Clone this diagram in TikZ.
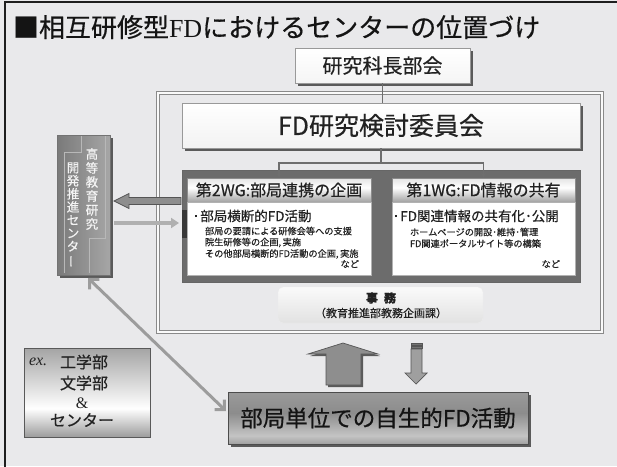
\documentclass[tikz,border=0pt]{standalone}
\usepackage{fontspec}
\setmainfont{Noto Sans CJK JP}[FakeBold=0.5]
\newfontfamily\latinserif{Liberation Serif}
\usetikzlibrary{arrows.meta,shadows}
\definecolor{bgc}{HTML}{E9E9EB}
\definecolor{edgec}{HTML}{1E1E1E}
\definecolor{framec}{HTML}{8A8A8A}
\definecolor{shadowc}{HTML}{5A5A5A}
\definecolor{wgc}{HTML}{6C6C6C}
\definecolor{hdtop}{HTML}{E4E4E4}
\definecolor{hdbot}{HTML}{A2A2A2}
\definecolor{txtc}{HTML}{222222}
\definecolor{exg1}{HTML}{A4A4A4}
\definecolor{exg2}{HTML}{9C9C9C}
\definecolor{bk0}{HTML}{9A9A9A}
\definecolor{bk1}{HTML}{8C8C8C}
\definecolor{bk2}{HTML}{C4C4C4}
\definecolor{bk3}{HTML}{A0A0A0}
\definecolor{ctl}{HTML}{7A7A7A}
\definecolor{ctr}{HTML}{A6A6A6}
\definecolor{arrc}{HTML}{8E8E8E}
\definecolor{arrb}{HTML}{555555}
\definecolor{connc}{HTML}{6E6E6E}
\definecolor{diagc}{HTML}{9C9C9C}
\definecolor{faintc}{HTML}{B0B0B0}
\definecolor{jimutop}{HTML}{FAFAFA}
\definecolor{jimubot}{HTML}{E2E2E2}
\definecolor{ctext}{HTML}{F4F4F4}
\definecolor{cline}{HTML}{B8B8B8}
\pgfdeclareverticalshading{hdshade}{100bp}{color(0bp)=(hdbot); color(25bp)=(hdbot); color(55bp)=(white); color(75bp)=(hdtop); color(100bp)=(hdtop)}
\pgfdeclareverticalshading{exshade}{100bp}{color(0bp)=(exg2); color(25bp)=(exg2); color(41bp)=(white); color(75bp)=(exg1); color(100bp)=(exg1)}
\pgfdeclareverticalshading{bkshade}{100bp}{color(0bp)=(bk3); color(25bp)=(bk3); color(33bp)=(bk2); color(55bp)=(bk1); color(75bp)=(bk0); color(100bp)=(bk0)}
\begin{document}
\begin{tikzpicture}[x=1pt,y=-1pt,
  every node/.style={inner sep=0pt,outer sep=0pt,text=txtc},
  shd/.style={drop shadow={shadow xshift=#1, shadow yshift=-#1, fill=shadowc, opacity=1}},
  shd/.default=2.5pt,
  header/.style={shading=hdshade, draw=black!45, minimum width=184pt, minimum height=24pt, font=\fontsize{16}{18}\selectfont},
  bodybox/.style={fill=white, draw=black!30, minimum width=184pt, minimum height=73pt},
  maintxt/.style={anchor=west, font=\fontsize{13.5}{15}\selectfont},
  subtxt/.style={anchor=west, font=\fontsize{9.2}{11}\selectfont},
  conn/.style={draw=connc, line width=1.5pt},
  blockarrow/.style={fill=arrc, draw=arrb, line width=0.7pt},
  ctrtxt/.style={align=center, text=ctext, font=\fontsize{12.5}{14}\selectfont},
  extxt/.style={font=\fontsize{16}{18}\selectfont}
]
\fill[bgc] (0,0) rectangle (617,466);
\useasboundingbox (0,0) rectangle (617,466);
\draw[edgec, line width=2pt] (5,467) -- (5,2) -- (618,2);

% title
\node[anchor=base west, font=\fontsize{26}{30}\selectfont, text=black!92] (title) at (13,37)
  {■相互研修型{\latinserif FD}におけるセンターの位置づけ};

% committee frame
\node[draw=framec, line width=0.9pt, double=white!96!gray, double distance=1.6pt,
      minimum width=444pt, minimum height=239pt] (frame) at (380,212.5) {};

% top boxes
\node[shd=2.5pt, draw=black!40, top color=white, bottom color=white!92!gray,
      minimum width=175pt, minimum height=35pt, font=\fontsize{20}{22}\selectfont] (kacho) at (382.5,65.5) {研究科長部会};
\node[shd=3pt, draw=black!40, top color=white, bottom color=white!90!gray,
      minimum width=398pt, minimum height=45pt, font=\fontsize{25}{28}\selectfont] (fd) at (381,125.5) {FD研究検討委員会};

% working group area
\node[fill=wgc, draw=black!60, minimum width=398pt, minimum height=112pt] (wg) at (381,226) {};
\fill[black!78] (182,210) rectangle (186.5,238);
\node[header] (h2) at (279,190) {第2WG:部局連携の企画};
\node[header, minimum width=183pt] (h1) at (483.5,190) {第1WG:FD情報の共有};
\node[bodybox] (b2) at (279,238.5) {};
\node[bodybox, minimum width=183pt] (b1) at (483.5,238.5) {};

\node[maintxt] (b2t) at (195,216) {\rule[0.3em]{2.3pt}{2.3pt}\hspace{3pt}部局横断的FD活動};
\node[subtxt] (b2l1) at (205,231) {部局の要請による研修会等への支援};
\node[subtxt] (b2l2) at (205,242.5) {院生研修等の企画,\,実施};
\node[subtxt] (b2l3) at (205,254) {その他部局横断的FD活動の企画,\,実施};
\node[subtxt, anchor=east] (b2l4) at (359,264) {など};

\node[maintxt] (b1t) at (395,216) {\rule[0.3em]{2.3pt}{2.3pt}\hspace{3pt}FD関連情報の共有化･公開};
\node[subtxt] (b1l1) at (410,232) {ホームページの開設･維持･管理};
\node[subtxt] (b1l2) at (410,243.5) {FD関連ポータルサイト等の構築};
\node[subtxt, anchor=east] (b1l3) at (560,264) {など};

% connectors inside frame
\coordinate (jn) at (381,163);
\draw[conn] (kacho.south) -- (kacho.south |- fd.north);
\draw[conn] (fd.south) -- (jn);
\draw[conn, -{Stealth[length=5pt,width=5pt]}] (jn) -| (h2.north);
\draw[conn, -{Stealth[length=5pt,width=5pt]}] (jn) -| (h1.north);

% office
\node[rounded corners=5pt, draw=white!85!gray, top color=jimutop, bottom color=jimubot,
      minimum width=205pt, minimum height=36pt] (jimu) at (380.5,305) {};
\node[font=\fontsize{12}{14}\selectfont\bfseries] (jimu1) at (381,298) {事\hspace{0.5em}務};
\node[font=\fontsize{11}{13}\selectfont] (jimu2) at (381,313) {（教育推進部教務企画課）};

% center box
\node[shd=2.5pt, left color=ctl, right color=ctr, draw=black!55, line width=0.4pt,
      minimum width=53pt, minimum height=140pt] (center) at (83.5,205) {};
\draw[cline, line width=0.6pt] (81,136) -- (81,152) -- (64,152) -- (64,273);
\draw[cline, line width=0.6pt] (105,136) -- (105,238) -- (89,238) -- (89,273);
\node[ctrtxt] (ctr1) at (92,189) {高\\等\\教\\育\\研\\究};
\node[ctrtxt, font=\fontsize{12.5}{13.1}\selectfont] (ctr2) at (73,215) {開\\発\\推\\進\\セ\\ン\\タ\\\rotatebox[origin=c]{90}{ー}};

% arrows between center and WG
\draw[blockarrow] (114,201) -- (129,193.5) -- (129,197.5) -- (181,197.5) -- (181,204.5)
  -- (129,204.5) -- (129,208.5) -- cycle;
\draw[faintc, line width=4pt, -{Triangle[length=8pt,width=10pt]}] (114,223) -- (179,223);

% bottom block
\node[shd=3pt, draw=black!70, shading=bkshade, minimum width=300pt, minimum height=52pt,
      font=\fontsize{22.5}{26}\selectfont, text=black!92] (bk) at (378,418) {部局単位での自生的FD活動};

% up and down arrows
\draw[blockarrow, shd=2pt] (343,343) -- (378,354) -- (361,354) -- (361,385) -- (326,385)
  -- (326,354) -- (308,354) -- cycle;
\draw[blockarrow, fill=arrc!85!white] (411,349) -- (422,349) -- (422,373) -- (427,373) -- (416,384)
  -- (405,373) -- (411,373) -- cycle;
\filldraw[fill=black!55, draw=arrb, line width=0.5pt] (411,343) rectangle (422,345);
\filldraw[fill=black!55, draw=arrb, line width=0.5pt] (411,346.5) rectangle (422,348);

% diagonal double arrow
\coordinate (da) at (88,278);
\coordinate (db) at (226,411);
\draw[diagc, line width=3pt, {Straight Barb[length=7pt,width=14pt]}-{Straight Barb[length=7pt,width=14pt]}] (da) -- (db);

% example box
\node[draw=black!65, line width=0.8pt, shading=exshade, minimum width=126pt, minimum height=89pt] (ex) at (87,392.5) {};
\node[anchor=west, font=\fontsize{16}{18}\selectfont\latinserif\itshape] (exl) at (29,362) {ex.};
\node[extxt, anchor=west] (ex1) at (60,362) {工学部};
\node[extxt] (ex2) at (84,383) {文学部};
\node[font=\fontsize{16}{18}\selectfont\latinserif] (ex3) at (82,403) {\&};
\node[extxt] (ex4) at (82,420) {センター};
\end{tikzpicture}
\end{document}
